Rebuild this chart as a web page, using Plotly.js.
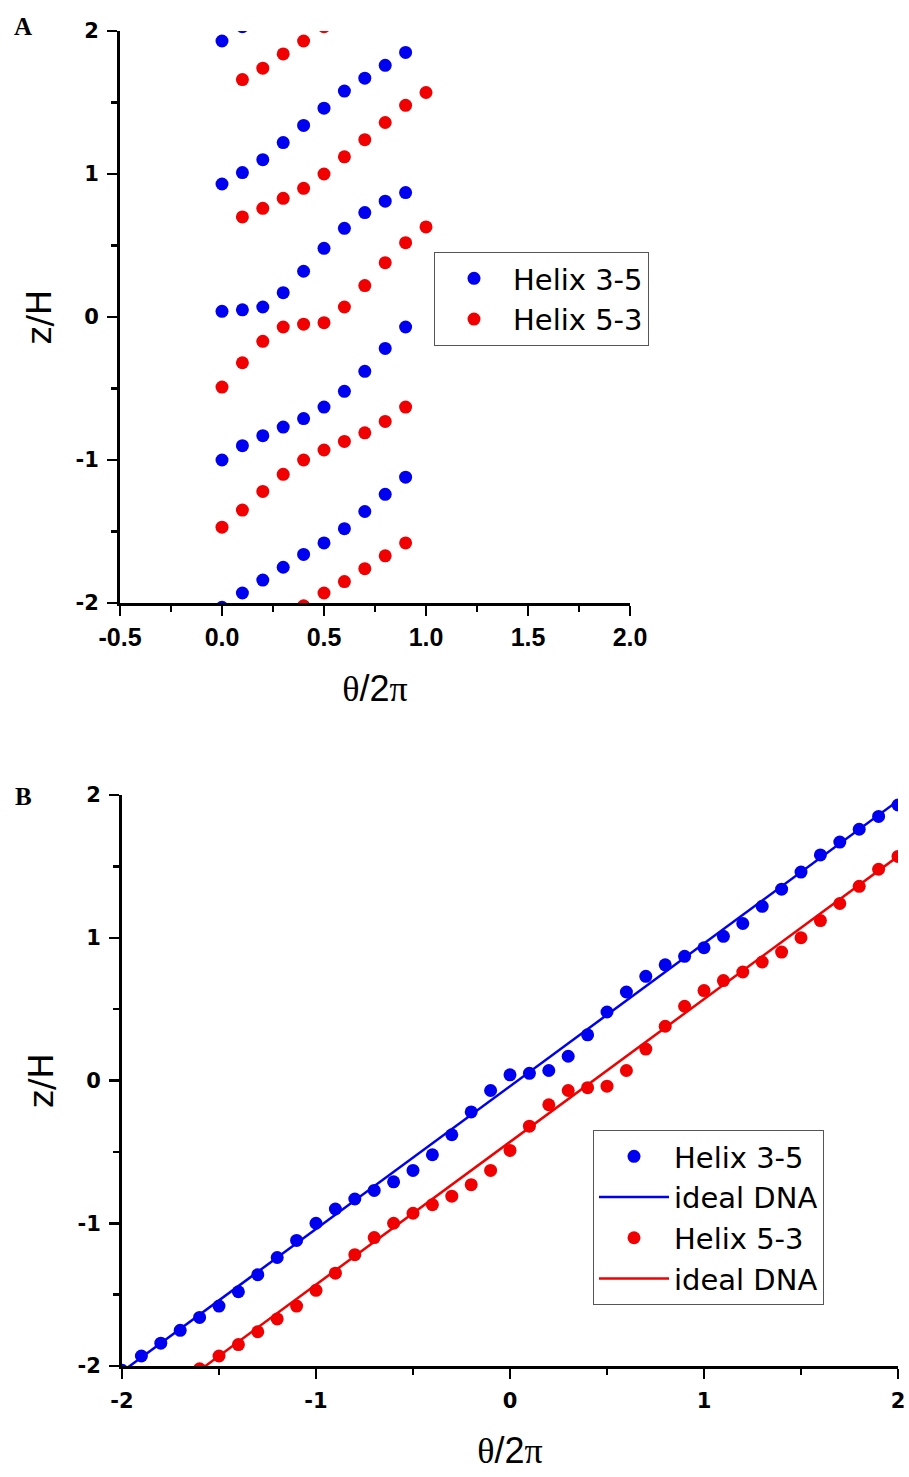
<!DOCTYPE html>
<html>
<head>
<meta charset="utf-8">
<script src="https://cdn.plot.ly/plotly-3.0.1.min.js"></script>
<style>html,body{margin:0;padding:0;background:#fff;}#chart{width:909px;height:1477px;}</style>
</head>
<body>
<div id="chart"></div>
<script>
// ---------- Panel A data (theta/2pi folded into one turn) ----------
const blueAX = [0.0,0.1,0.2,0.3,0.4,0.5,0.6,0.7,0.8,0.9,
                0.0,0.1,0.2,0.3,0.4,0.5,0.6,0.7,0.8,0.9,
                0.0,0.1,0.2,0.3,0.4,0.5,0.6,0.7,0.8,0.9,
                0.0,0.1,0.2,0.3,0.4,0.5,0.6,0.7,0.8,0.9,
                0.0,0.1];
const blueAY = [-2.03,-1.93,-1.84,-1.75,-1.66,-1.58,-1.48,-1.36,-1.24,-1.12,
                -1.00,-0.90,-0.83,-0.77,-0.71,-0.63,-0.52,-0.38,-0.22,-0.07,
                0.04,0.05,0.07,0.17,0.32,0.48,0.62,0.73,0.81,0.87,
                0.93,1.01,1.10,1.22,1.34,1.46,1.58,1.67,1.76,1.85,
                1.93,2.03];
const redAX = [0.4,0.5,0.6,0.7,0.8,0.9,
               0.0,0.1,0.2,0.3,0.4,0.5,0.6,0.7,0.8,0.9,
               0.0,0.1,0.2,0.3,0.4,0.5,0.6,0.7,0.8,0.9,1.0,
               0.1,0.2,0.3,0.4,0.5,0.6,0.7,0.8,0.9,1.0,
               0.1,0.2,0.3,0.4,0.5];
const redAY = [-2.02,-1.93,-1.85,-1.76,-1.67,-1.58,
               -1.47,-1.35,-1.22,-1.10,-1.00,-0.93,-0.87,-0.81,-0.73,-0.63,
               -0.49,-0.32,-0.17,-0.07,-0.05,-0.04,0.07,0.22,0.38,0.52,0.63,
               0.70,0.76,0.83,0.90,1.00,1.12,1.24,1.36,1.48,1.57,
               1.66,1.74,1.84,1.93,2.03];

// ---------- Panel B data (unfolded) ----------
const blueBX = [-2.0,-1.9,-1.8,-1.7,-1.6,-1.5,-1.4,-1.3,-1.2,-1.1,
                -1.0,-0.9,-0.8,-0.7,-0.6,-0.5,-0.4,-0.3,-0.2,-0.1,
                0.0,0.1,0.2,0.3,0.4,0.5,0.6,0.7,0.8,0.9,
                1.0,1.1,1.2,1.3,1.4,1.5,1.6,1.7,1.8,1.9,2.0];
const blueBY = [-2.03,-1.93,-1.84,-1.75,-1.66,-1.58,-1.48,-1.36,-1.24,-1.12,
                -1.00,-0.90,-0.83,-0.77,-0.71,-0.63,-0.52,-0.38,-0.22,-0.07,
                0.04,0.05,0.07,0.17,0.32,0.48,0.62,0.73,0.81,0.87,
                0.93,1.01,1.10,1.22,1.34,1.46,1.58,1.67,1.76,1.85,1.93];
const redBX = [-1.6,-1.5,-1.4,-1.3,-1.2,-1.1,
               -1.0,-0.9,-0.8,-0.7,-0.6,-0.5,-0.4,-0.3,-0.2,-0.1,
               0.0,0.1,0.2,0.3,0.4,0.5,0.6,0.7,0.8,0.9,1.0,
               1.1,1.2,1.3,1.4,1.5,1.6,1.7,1.8,1.9,2.0];
const redBY = [-2.02,-1.93,-1.85,-1.76,-1.67,-1.58,
               -1.47,-1.35,-1.22,-1.10,-1.00,-0.93,-0.87,-0.81,-0.73,-0.63,
               -0.49,-0.32,-0.17,-0.07,-0.05,-0.04,0.07,0.22,0.38,0.52,0.63,
               0.70,0.76,0.83,0.90,1.00,1.12,1.24,1.36,1.48,1.57];
// ideal DNA lines
const idealBlueX = [-2.5, 2.5];
const idealBlueY = [-2.54, 2.46];
const idealRedX = [-2.5, 2.5];
const idealRedY = [-2.93, 2.07];

// ---------- tick labels ----------
const tickValsAX = [-0.5, 0, 0.5, 1, 1.5, 2];
const tickTextAX = ['-0.5', '0.0', '0.5', '1.0', '1.5', '2.0'];
const tickValsBX = [-2, -1, 0, 1, 2];
const tickTextBX = ['-2', '-1', '0', '1', '2'];
const tickValsY = [-2, -1, 0, 1, 2];
const tickTextY = ['-2', '-1', '0', '1', '2'];

const BLUE = '#0000f0';
const RED = '#f00000';
const W = 909, H = 1477;
const px = v => v / W;
const py = v => 1 - v / H;

const yTickFont = {family: 'DejaVu Sans', size: 21, color: '#000', weight: 'bold'};
const titleX = '<span style="font-family:Liberation Serif">θ</span>/2<span style="font-family:Liberation Serif">π</span>';
const titleXFont = {family: 'Liberation Sans', size: 36, color: '#000'};
const titleYFont = {family: 'DejaVu Sans', size: 34, color: '#000'};

function axisCommon(extra) {
  return Object.assign({
    showline: true, linecolor: '#000', linewidth: 3,
    ticks: 'outside', ticklen: 10, tickwidth: 2.5, tickcolor: '#000',
    showgrid: false, zeroline: false, mirror: false, tickmode: 'array'
  }, extra);
}
const minorTicks = d => ({tickmode: 'linear', tick0: 0, dtick: d, ticks: 'outside', ticklen: 6, tickwidth: 2.5, tickcolor: '#000', showgrid: false});

const mk = c => ({color: c, size: 13, symbol: 'circle'});

const traces = [
  {x: blueAX, y: blueAY, type: 'scatter', mode: 'markers', name: 'Helix 3-5',
   marker: mk(BLUE), xaxis: 'x', yaxis: 'y', legend: 'legend'},
  {x: redAX, y: redAY, type: 'scatter', mode: 'markers', name: 'Helix 5-3',
   marker: mk(RED), xaxis: 'x', yaxis: 'y', legend: 'legend'},
  {x: idealBlueX, y: idealBlueY, type: 'scatter', mode: 'lines', name: 'ideal DNA',
   line: {color: BLUE, width: 2.5}, xaxis: 'x2', yaxis: 'y2', legend: 'legend2', legendrank: 2},
  {x: idealRedX, y: idealRedY, type: 'scatter', mode: 'lines', name: 'ideal DNA',
   line: {color: RED, width: 2.5}, xaxis: 'x2', yaxis: 'y2', legend: 'legend2', legendrank: 4},
  {x: blueBX, y: blueBY, type: 'scatter', mode: 'markers', name: 'Helix 3-5',
   marker: mk(BLUE), xaxis: 'x2', yaxis: 'y2', legend: 'legend2', legendrank: 1},
  {x: redBX, y: redBY, type: 'scatter', mode: 'markers', name: 'Helix 5-3',
   marker: mk(RED), xaxis: 'x2', yaxis: 'y2', legend: 'legend2', legendrank: 3}
];

const legFont = {family: 'DejaVu Sans', size: 29, color: '#000'};

const layout = {
  width: W, height: H,
  margin: {l: 0, r: 0, t: 0, b: 0},
  paper_bgcolor: '#fff', plot_bgcolor: '#fff',
  showlegend: true,
  xaxis: axisCommon({
    domain: [px(120), px(630)], range: [-0.5, 2.0], anchor: 'y',
    tickvals: tickValsAX, ticktext: tickTextAX, ticklabelstandoff: 0,
    tickfont: {family: 'Liberation Sans', size: 25, color: '#000', weight: 'bold'},
    minor: minorTicks(0.25),
    title: {text: titleX, font: titleXFont, standoff: 26}
  }),
  yaxis: axisCommon({
    domain: [py(603), py(31)], range: [-2, 2], anchor: 'x',
    tickvals: tickValsY, ticktext: tickTextY, ticklabelstandoff: 4, tickfont: yTickFont,
    minor: minorTicks(0.5),
    title: {text: 'z/H', font: titleYFont, standoff: 14}
  }),
  xaxis2: axisCommon({
    domain: [px(122), px(898)], range: [-2, 2], anchor: 'y2',
    tickvals: tickValsBX, ticktext: tickTextBX, ticklabelstandoff: 4,
    tickfont: {family: 'DejaVu Sans', size: 21, color: '#000', weight: 'bold'},
    minor: minorTicks(0.5),
    title: {text: titleX, font: titleXFont, standoff: 26}
  }),
  yaxis2: axisCommon({
    domain: [py(1366), py(795)], range: [-2, 2], anchor: 'x2',
    tickvals: tickValsY, ticktext: tickTextY, ticklabelstandoff: 4, tickfont: yTickFont,
    minor: minorTicks(0.5),
    title: {text: 'z/H', font: titleYFont, standoff: 14}
  }),
  legend: {
    x: px(434), y: py(252), xanchor: 'left', yanchor: 'top',
    bgcolor: '#fff', bordercolor: '#555', borderwidth: 1,
    font: legFont, itemwidth: 68, tracegroupgap: 0
  },
  legend2: {
    x: px(593), y: py(1130), xanchor: 'left', yanchor: 'top',
    bgcolor: '#fff', bordercolor: '#555', borderwidth: 1,
    font: legFont, itemwidth: 70, tracegroupgap: 0, traceorder: 'normal'
  },
  annotations: [
    {text: 'A', x: px(23), y: py(26), xref: 'paper', yref: 'paper', showarrow: false,
     xanchor: 'center', yanchor: 'middle', font: {family: 'Liberation Serif', size: 25, color: '#000', weight: 'bold'}},
    {text: 'B', x: px(23), y: py(796), xref: 'paper', yref: 'paper', showarrow: false,
     xanchor: 'center', yanchor: 'middle', font: {family: 'Liberation Serif', size: 25, color: '#000', weight: 'bold'}}
  ]
};

Plotly.newPlot('chart', traces, layout, {displayModeBar: false, staticPlot: true});
</script>
</body>
</html>
